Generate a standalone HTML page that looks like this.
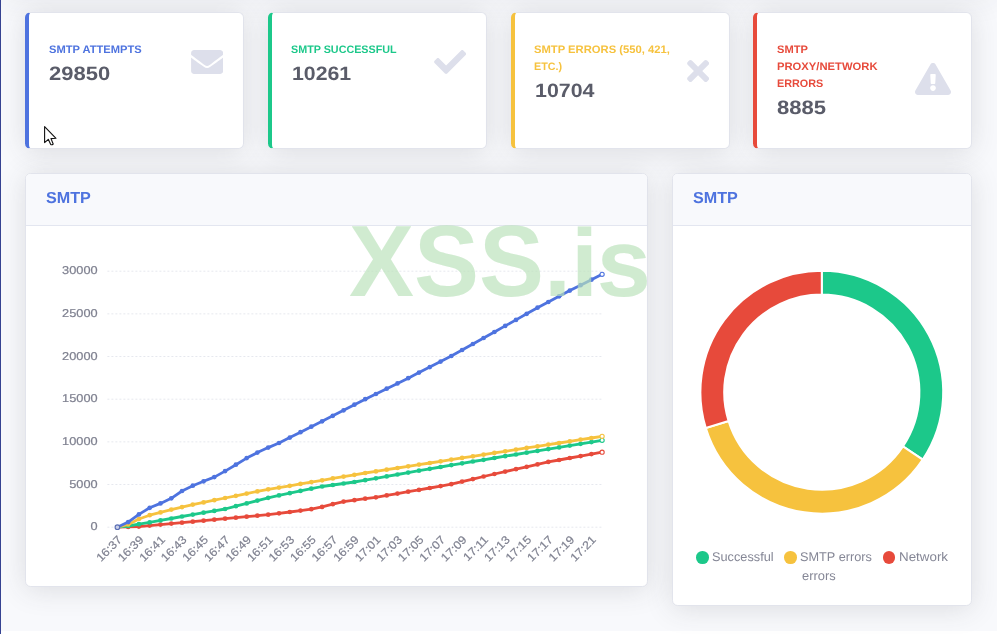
<!DOCTYPE html>
<html lang="en"><head><meta charset="utf-8"><title>SMTP</title>
<style>
*{box-sizing:border-box}
html,body{margin:0;padding:0}
body{width:997px;height:634px;overflow:hidden;position:relative;background:#f8f9fc;font-family:"Liberation Sans",sans-serif;color:#858796;text-rendering:geometricPrecision}
.abs{position:absolute}
.topshade{left:0;top:-60px;width:997px;height:60px;background:#fff;box-shadow:0 2.4px 28px 0 rgba(58,59,69,.06)}
.edge{left:0;top:0;width:1.2px;height:634px;background:#364392}
.footer{left:1px;top:631px;width:996px;height:3px;background:#fff}
.card{position:absolute;background:#fff;border:1px solid #e2e4ec;border-radius:5.6px;box-shadow:0 2.4px 28px 0 rgba(58,59,69,.15)}
.tx{position:absolute;white-space:nowrap;transform-origin:0 50%}
.ttl{font-weight:700;font-size:10.9px;line-height:16.8px}
.num{font-weight:700;font-size:19.4px;line-height:24px;color:#5a5c69}
.ico path{fill:#dddfeb}
.hdr{position:absolute;left:0;top:0;right:0;height:52.2px;background:#f8f9fc;border-bottom:1px solid #e3e6f0;border-radius:4.6px 4.6px 0 0}
.h6{font-weight:700;font-size:15.9px;line-height:19.2px;color:#4e73df}
.tick{text-rendering:geometricPrecision;font-family:"Liberation Sans",sans-serif;font-size:11.4px;fill:#7f8190;stroke:#7f8190;stroke-width:.2px}
.wm{font-weight:700;font-size:101.5px;line-height:1;color:rgba(185,225,185,.67)}
.wi{display:inline-block;letter-spacing:-1.5px;transform:scaleY(.946);transform-origin:0 84.65%}
.leg{font-size:12.6px;line-height:19.2px;color:#858796}
.dot{position:absolute;width:12.6px;height:12.6px;border-radius:50%}
</style></head><body>
<div class="abs topshade"></div>
<div class="abs footer"></div>
<div class="card" style="left:25.20px;top:12.3px;width:219px;height:136.4px;border-left:4px solid #4e73df"></div>
<div class="card" style="left:267.90px;top:12.3px;width:219px;height:136.4px;border-left:4px solid #1cc88a"></div>
<div class="card" style="left:510.60px;top:12.3px;width:219px;height:136.4px;border-left:4px solid #f6c23e"></div>
<div class="card" style="left:753.30px;top:12.3px;width:219px;height:136.4px;border-left:4px solid #e74a3b"></div>
<div id="t1" class="tx ttl" style="left:48.71px;top:42.10px;transform:scale(1.0238,1.0000);color:#4e73df;">SMTP ATTEMPTS</div><div id="n1" class="tx num" style="left:48.63px;top:62.20px;transform:scale(1.1339,1.0000);">29850</div><svg class="abs ico" style="left:190.8px;top:46px" width="32.2" height="32" viewBox="0 0 512 512"><path d="M502.3 190.8c3.9-3.1 9.7-.2 9.7 4.7V400c0 26.5-21.5 48-48 48H48c-26.5 0-48-21.5-48-48V195.6c0-5 5.7-7.800 9.7-4.700 22.400 17.400 52.100 39.500 154.100 113.600 21.100 15.400 56.700 47.800 92.200 47.600 35.700.300 72-32.800 92.300-47.600 102-74.100 131.600-96.300 154-113.700zM256 320c23.200.400 56.600-29.200 73.400-41.400 132.700-96.300 142.800-104.700 173.400-128.700 5.800-4.500 9.200-11.500 9.200-18.900v-19c0-26.500-21.500-48-48-48H48C21.500 64 0 85.500 0 112v19c0 7.400 3.400 14.300 9.200 18.900 30.600 23.900 40.700 32.400 173.400 128.700 16.800 12.200 50.200 41.800 73.400 41.400z"/></svg>
<div id="t2" class="tx ttl" style="left:291.26px;top:42.10px;transform:scale(0.9880,1.0000);color:#1cc88a;">SMTP SUCCESSFUL</div><div id="n2" class="tx num" style="left:292.44px;top:62.20px;transform:scale(1.0974,1.0000);">10261</div><svg class="abs ico" style="left:433.6px;top:46px" width="32.2" height="32" viewBox="0 0 512 512"><path d="M173.898 439.404l-166.400-166.400c-9.997-9.997-9.997-26.206 0-36.204l36.203-36.204c9.997-9.998 26.207-9.998 36.204 0L192 312.690 432.095 72.596c9.997-9.997 26.207-9.997 36.204 0l36.203 36.204c9.997 9.997 9.997 26.206 0 36.204l-294.400 294.401c-9.998 9.997-26.207 9.997-36.204-.001z"/></svg>
<div id="t3a" class="tx ttl" style="left:533.79px;top:42.10px;transform:scale(1.0315,1.0000);color:#f6c23e;">SMTP ERRORS (550, 421,</div><div id="t3b" class="tx ttl" style="left:533.68px;top:59.00px;transform:scale(0.9859,1.0000);color:#f6c23e;">ETC.)</div><div id="n3" class="tx num" style="left:534.54px;top:79.10px;transform:scale(1.1034,1.0000);">10704</div><svg class="abs ico" style="left:686.5px;top:55.2px" width="22.2" height="32" viewBox="0 0 352 512"><path d="M242.720 256l100.070-100.070c12.280-12.280 12.280-32.190 0-44.480l-22.240-22.240c-12.280-12.280-32.190-12.280-44.480 0L176 189.280 75.930 89.210c-12.280-12.280-32.190-12.280-44.480 0L9.210 111.450c-12.280 12.280-12.280 32.190 0 44.480L109.280 256 9.210 356.070c-12.280 12.280-12.280 32.190 0 44.480l22.240 22.240c12.280 12.280 32.200 12.280 44.480 0L176 322.720l100.070 100.070c12.280 12.280 32.200 12.280 44.480 0l22.240-22.240c12.280-12.280 12.280-32.190 0-44.480L242.720 256z"/></svg>
<div id="t4a" class="tx ttl" style="left:776.69px;top:42.10px;transform:scale(1.0192,1.0000);color:#e74a3b;">SMTP</div><div id="t4b" class="tx ttl" style="left:776.64px;top:59.00px;transform:scale(1.0318,1.0000);color:#e74a3b;">PROXY/NETWORK</div><div id="t4c" class="tx ttl" style="left:776.70px;top:75.90px;transform:scale(0.9938,1.0000);color:#e74a3b;">ERRORS</div><div id="n4" class="tx num" style="left:777.24px;top:95.50px;transform:scale(1.1364,1.0000);">8885</div><svg class="abs ico" style="left:914.9px;top:63px" width="36" height="32" viewBox="0 0 576 512"><path d="M569.517 440.013C587.975 472.007 564.806 512 527.940 512H48.054c-36.937 0-59.999-40.055-41.577-71.987L246.423 23.985c18.467-32.009 64.720-31.951 83.154 0l239.940 416.028zM288 354c-25.405 0-46 20.595-46 46s20.595 46 46 46 46-20.595 46-46-20.595-46-46-46zm-43.673-165.346l7.418 136c.347 6.364 5.609 11.346 11.982 11.346h48.546c6.373 0 11.635-4.982 11.982-11.346l7.418-136c.375-6.874-5.098-12.654-11.982-12.654h-63.383c-6.884 0-12.356 5.780-11.981 12.654z"/></svg>

<div class="card" style="left:25.2px;top:172.7px;width:622.8px;height:414.2px"><div class="hdr"></div></div>
<div id="h6a" class="tx h6" style="left:45.51px;top:189.40px;transform:scale(1.0167,1.0000);">SMTP</div>
<div class="card" style="left:672.2px;top:172.7px;width:299.8px;height:433.6px"><div class="hdr"></div></div>
<div id="h6b" class="tx h6" style="left:692.51px;top:189.40px;transform:scale(1.0167,1.0000);">SMTP</div>
<svg class="abs" style="left:0;top:0" width="997" height="634" viewBox="0 0 997 634">
<line x1="107.4" x2="602.2" y1="527.20" y2="527.20" stroke="#e6e8ee" stroke-width="1" stroke-dasharray="2 2"/>
<line x1="107.4" x2="602.2" y1="484.53" y2="484.53" stroke="#e6e8ee" stroke-width="1" stroke-dasharray="2 2"/>
<line x1="107.4" x2="602.2" y1="441.87" y2="441.87" stroke="#e6e8ee" stroke-width="1" stroke-dasharray="2 2"/>
<line x1="107.4" x2="602.2" y1="399.20" y2="399.20" stroke="#e6e8ee" stroke-width="1" stroke-dasharray="2 2"/>
<line x1="107.4" x2="602.2" y1="356.53" y2="356.53" stroke="#e6e8ee" stroke-width="1" stroke-dasharray="2 2"/>
<line x1="107.4" x2="602.2" y1="313.87" y2="313.87" stroke="#e6e8ee" stroke-width="1" stroke-dasharray="2 2"/>
<line x1="107.4" x2="602.2" y1="271.20" y2="271.20" stroke="#e6e8ee" stroke-width="1" stroke-dasharray="2 2"/>
<text class="tick" text-anchor="end" transform="translate(97.60,530.20) scale(1.12,1)">0</text>
<text class="tick" text-anchor="end" transform="translate(97.60,487.53) scale(1.12,1)">5000</text>
<text class="tick" text-anchor="end" transform="translate(97.60,444.87) scale(1.12,1)">10000</text>
<text class="tick" text-anchor="end" transform="translate(97.60,402.20) scale(1.12,1)">15000</text>
<text class="tick" text-anchor="end" transform="translate(97.60,359.53) scale(1.12,1)">20000</text>
<text class="tick" text-anchor="end" transform="translate(97.60,316.87) scale(1.12,1)">25000</text>
<text class="tick" text-anchor="end" transform="translate(97.60,274.20) scale(1.12,1)">30000</text>
<text class="tick" text-anchor="end" transform="translate(122.70,540.50) rotate(-45) scale(1.08,1)">16:37</text>
<text class="tick" text-anchor="end" transform="translate(144.24,540.50) rotate(-45) scale(1.08,1)">16:39</text>
<text class="tick" text-anchor="end" transform="translate(165.79,540.50) rotate(-45) scale(1.08,1)">16:41</text>
<text class="tick" text-anchor="end" transform="translate(187.33,540.50) rotate(-45) scale(1.08,1)">16:43</text>
<text class="tick" text-anchor="end" transform="translate(208.88,540.50) rotate(-45) scale(1.08,1)">16:45</text>
<text class="tick" text-anchor="end" transform="translate(230.42,540.50) rotate(-45) scale(1.08,1)">16:47</text>
<text class="tick" text-anchor="end" transform="translate(251.96,540.50) rotate(-45) scale(1.08,1)">16:49</text>
<text class="tick" text-anchor="end" transform="translate(273.51,540.50) rotate(-45) scale(1.08,1)">16:51</text>
<text class="tick" text-anchor="end" transform="translate(295.05,540.50) rotate(-45) scale(1.08,1)">16:53</text>
<text class="tick" text-anchor="end" transform="translate(316.60,540.50) rotate(-45) scale(1.08,1)">16:55</text>
<text class="tick" text-anchor="end" transform="translate(338.14,540.50) rotate(-45) scale(1.08,1)">16:57</text>
<text class="tick" text-anchor="end" transform="translate(359.68,540.50) rotate(-45) scale(1.08,1)">16:59</text>
<text class="tick" text-anchor="end" transform="translate(381.23,540.50) rotate(-45) scale(1.08,1)">17:01</text>
<text class="tick" text-anchor="end" transform="translate(402.77,540.50) rotate(-45) scale(1.08,1)">17:03</text>
<text class="tick" text-anchor="end" transform="translate(424.32,540.50) rotate(-45) scale(1.08,1)">17:05</text>
<text class="tick" text-anchor="end" transform="translate(445.86,540.50) rotate(-45) scale(1.08,1)">17:07</text>
<text class="tick" text-anchor="end" transform="translate(467.40,540.50) rotate(-45) scale(1.08,1)">17:09</text>
<text class="tick" text-anchor="end" transform="translate(488.95,540.50) rotate(-45) scale(1.08,1)">17:11</text>
<text class="tick" text-anchor="end" transform="translate(510.49,540.50) rotate(-45) scale(1.08,1)">17:13</text>
<text class="tick" text-anchor="end" transform="translate(532.04,540.50) rotate(-45) scale(1.08,1)">17:15</text>
<text class="tick" text-anchor="end" transform="translate(553.58,540.50) rotate(-45) scale(1.08,1)">17:17</text>
<text class="tick" text-anchor="end" transform="translate(575.12,540.50) rotate(-45) scale(1.08,1)">17:19</text>
<text class="tick" text-anchor="end" transform="translate(596.67,540.50) rotate(-45) scale(1.08,1)">17:21</text>
<polyline points="117.4,527.2 128.2,526.9 138.9,526.6 149.7,525.6 160.5,524.6 171.3,523.6 182.0,522.7 192.8,521.7 203.6,520.7 214.3,519.7 225.1,518.7 235.9,517.7 246.7,516.7 257.4,515.7 268.2,514.7 279.0,513.3 289.8,512.0 300.5,510.6 311.3,509.2 322.1,506.9 332.8,504.2 343.6,501.6 354.4,500.2 365.2,498.7 375.9,497.3 386.7,495.4 397.5,493.6 408.2,491.7 419.0,489.9 429.8,488.0 440.6,486.1 451.3,484.2 462.1,481.6 472.9,479.1 483.6,476.5 494.4,474.0 505.2,471.6 516.0,469.2 526.7,466.8 537.5,464.4 548.3,461.9 559.1,460.0 569.8,458.0 580.6,456.1 591.4,454.1 602.1,452.2" fill="none" stroke="#e74a3b" stroke-width="2.8" stroke-linejoin="round" stroke-linecap="round"/>
<circle cx="128.2" cy="526.9" r="2.35" fill="#e74a3b"/>
<circle cx="138.9" cy="526.6" r="2.35" fill="#e74a3b"/>
<circle cx="149.7" cy="525.6" r="2.35" fill="#e74a3b"/>
<circle cx="160.5" cy="524.6" r="2.35" fill="#e74a3b"/>
<circle cx="171.3" cy="523.6" r="2.35" fill="#e74a3b"/>
<circle cx="182.0" cy="522.7" r="2.35" fill="#e74a3b"/>
<circle cx="192.8" cy="521.7" r="2.35" fill="#e74a3b"/>
<circle cx="203.6" cy="520.7" r="2.35" fill="#e74a3b"/>
<circle cx="214.3" cy="519.7" r="2.35" fill="#e74a3b"/>
<circle cx="225.1" cy="518.7" r="2.35" fill="#e74a3b"/>
<circle cx="235.9" cy="517.7" r="2.35" fill="#e74a3b"/>
<circle cx="246.7" cy="516.7" r="2.35" fill="#e74a3b"/>
<circle cx="257.4" cy="515.7" r="2.35" fill="#e74a3b"/>
<circle cx="268.2" cy="514.7" r="2.35" fill="#e74a3b"/>
<circle cx="279.0" cy="513.3" r="2.35" fill="#e74a3b"/>
<circle cx="289.8" cy="512.0" r="2.35" fill="#e74a3b"/>
<circle cx="300.5" cy="510.6" r="2.35" fill="#e74a3b"/>
<circle cx="311.3" cy="509.2" r="2.35" fill="#e74a3b"/>
<circle cx="322.1" cy="506.9" r="2.35" fill="#e74a3b"/>
<circle cx="332.8" cy="504.2" r="2.35" fill="#e74a3b"/>
<circle cx="343.6" cy="501.6" r="2.35" fill="#e74a3b"/>
<circle cx="354.4" cy="500.2" r="2.35" fill="#e74a3b"/>
<circle cx="365.2" cy="498.7" r="2.35" fill="#e74a3b"/>
<circle cx="375.9" cy="497.3" r="2.35" fill="#e74a3b"/>
<circle cx="386.7" cy="495.4" r="2.35" fill="#e74a3b"/>
<circle cx="397.5" cy="493.6" r="2.35" fill="#e74a3b"/>
<circle cx="408.2" cy="491.7" r="2.35" fill="#e74a3b"/>
<circle cx="419.0" cy="489.9" r="2.35" fill="#e74a3b"/>
<circle cx="429.8" cy="488.0" r="2.35" fill="#e74a3b"/>
<circle cx="440.6" cy="486.1" r="2.35" fill="#e74a3b"/>
<circle cx="451.3" cy="484.2" r="2.35" fill="#e74a3b"/>
<circle cx="462.1" cy="481.6" r="2.35" fill="#e74a3b"/>
<circle cx="472.9" cy="479.1" r="2.35" fill="#e74a3b"/>
<circle cx="483.6" cy="476.5" r="2.35" fill="#e74a3b"/>
<circle cx="494.4" cy="474.0" r="2.35" fill="#e74a3b"/>
<circle cx="505.2" cy="471.6" r="2.35" fill="#e74a3b"/>
<circle cx="516.0" cy="469.2" r="2.35" fill="#e74a3b"/>
<circle cx="526.7" cy="466.8" r="2.35" fill="#e74a3b"/>
<circle cx="537.5" cy="464.4" r="2.35" fill="#e74a3b"/>
<circle cx="548.3" cy="461.9" r="2.35" fill="#e74a3b"/>
<circle cx="559.1" cy="460.0" r="2.35" fill="#e74a3b"/>
<circle cx="569.8" cy="458.0" r="2.35" fill="#e74a3b"/>
<circle cx="580.6" cy="456.1" r="2.35" fill="#e74a3b"/>
<circle cx="591.4" cy="454.1" r="2.35" fill="#e74a3b"/>
<circle cx="602.1" cy="452.2" r="2.1" fill="#fff" stroke="#e74a3b" stroke-width="1.1"/>
<polyline points="117.4,527.2 128.2,526.0 138.9,524.2 149.7,522.4 160.5,520.4 171.3,518.5 182.0,516.5 192.8,514.6 203.6,512.7 214.3,510.9 225.1,509.0 235.9,506.2 246.7,503.4 257.4,500.6 268.2,497.8 279.0,495.4 289.8,493.2 300.5,490.9 311.3,488.7 322.1,486.5 332.8,485.0 343.6,483.5 354.4,482.0 365.2,480.2 375.9,478.3 386.7,476.4 397.5,474.5 408.2,472.6 419.0,470.7 429.8,468.8 440.6,467.0 451.3,465.1 462.1,463.3 472.9,461.5 483.6,459.8 494.4,458.0 505.2,456.2 516.0,454.5 526.7,452.7 537.5,450.9 548.3,449.1 559.1,447.4 569.8,445.6 580.6,443.8 591.4,442.1 602.1,440.3" fill="none" stroke="#1cc88a" stroke-width="2.8" stroke-linejoin="round" stroke-linecap="round"/>
<circle cx="128.2" cy="526.0" r="2.35" fill="#1cc88a"/>
<circle cx="138.9" cy="524.2" r="2.35" fill="#1cc88a"/>
<circle cx="149.7" cy="522.4" r="2.35" fill="#1cc88a"/>
<circle cx="160.5" cy="520.4" r="2.35" fill="#1cc88a"/>
<circle cx="171.3" cy="518.5" r="2.35" fill="#1cc88a"/>
<circle cx="182.0" cy="516.5" r="2.35" fill="#1cc88a"/>
<circle cx="192.8" cy="514.6" r="2.35" fill="#1cc88a"/>
<circle cx="203.6" cy="512.7" r="2.35" fill="#1cc88a"/>
<circle cx="214.3" cy="510.9" r="2.35" fill="#1cc88a"/>
<circle cx="225.1" cy="509.0" r="2.35" fill="#1cc88a"/>
<circle cx="235.9" cy="506.2" r="2.35" fill="#1cc88a"/>
<circle cx="246.7" cy="503.4" r="2.35" fill="#1cc88a"/>
<circle cx="257.4" cy="500.6" r="2.35" fill="#1cc88a"/>
<circle cx="268.2" cy="497.8" r="2.35" fill="#1cc88a"/>
<circle cx="279.0" cy="495.4" r="2.35" fill="#1cc88a"/>
<circle cx="289.8" cy="493.2" r="2.35" fill="#1cc88a"/>
<circle cx="300.5" cy="490.9" r="2.35" fill="#1cc88a"/>
<circle cx="311.3" cy="488.7" r="2.35" fill="#1cc88a"/>
<circle cx="322.1" cy="486.5" r="2.35" fill="#1cc88a"/>
<circle cx="332.8" cy="485.0" r="2.35" fill="#1cc88a"/>
<circle cx="343.6" cy="483.5" r="2.35" fill="#1cc88a"/>
<circle cx="354.4" cy="482.0" r="2.35" fill="#1cc88a"/>
<circle cx="365.2" cy="480.2" r="2.35" fill="#1cc88a"/>
<circle cx="375.9" cy="478.3" r="2.35" fill="#1cc88a"/>
<circle cx="386.7" cy="476.4" r="2.35" fill="#1cc88a"/>
<circle cx="397.5" cy="474.5" r="2.35" fill="#1cc88a"/>
<circle cx="408.2" cy="472.6" r="2.35" fill="#1cc88a"/>
<circle cx="419.0" cy="470.7" r="2.35" fill="#1cc88a"/>
<circle cx="429.8" cy="468.8" r="2.35" fill="#1cc88a"/>
<circle cx="440.6" cy="467.0" r="2.35" fill="#1cc88a"/>
<circle cx="451.3" cy="465.1" r="2.35" fill="#1cc88a"/>
<circle cx="462.1" cy="463.3" r="2.35" fill="#1cc88a"/>
<circle cx="472.9" cy="461.5" r="2.35" fill="#1cc88a"/>
<circle cx="483.6" cy="459.8" r="2.35" fill="#1cc88a"/>
<circle cx="494.4" cy="458.0" r="2.35" fill="#1cc88a"/>
<circle cx="505.2" cy="456.2" r="2.35" fill="#1cc88a"/>
<circle cx="516.0" cy="454.5" r="2.35" fill="#1cc88a"/>
<circle cx="526.7" cy="452.7" r="2.35" fill="#1cc88a"/>
<circle cx="537.5" cy="450.9" r="2.35" fill="#1cc88a"/>
<circle cx="548.3" cy="449.1" r="2.35" fill="#1cc88a"/>
<circle cx="559.1" cy="447.4" r="2.35" fill="#1cc88a"/>
<circle cx="569.8" cy="445.6" r="2.35" fill="#1cc88a"/>
<circle cx="580.6" cy="443.8" r="2.35" fill="#1cc88a"/>
<circle cx="591.4" cy="442.1" r="2.35" fill="#1cc88a"/>
<circle cx="602.1" cy="440.3" r="2.1" fill="#fff" stroke="#1cc88a" stroke-width="1.1"/>
<polyline points="117.4,527.2 128.2,524.5 138.9,519.0 149.7,515.2 160.5,512.4 171.3,509.6 182.0,507.1 192.8,504.6 203.6,502.4 214.3,500.2 225.1,498.0 235.9,495.8 246.7,493.6 257.4,491.4 268.2,489.3 279.0,487.6 289.8,485.8 300.5,483.9 311.3,482.1 322.1,480.3 332.8,478.4 343.6,476.6 354.4,474.8 365.2,473.0 375.9,471.4 386.7,469.7 397.5,468.0 408.2,466.3 419.0,464.6 429.8,463.0 440.6,461.3 451.3,459.6 462.1,457.9 472.9,456.3 483.6,454.6 494.4,452.9 505.2,451.3 516.0,449.6 526.7,447.9 537.5,446.3 548.3,444.6 559.1,443.0 569.8,441.3 580.6,439.6 591.4,438.0 602.1,436.3" fill="none" stroke="#f6c23e" stroke-width="2.8" stroke-linejoin="round" stroke-linecap="round"/>
<circle cx="128.2" cy="524.5" r="2.35" fill="#f6c23e"/>
<circle cx="138.9" cy="519.0" r="2.35" fill="#f6c23e"/>
<circle cx="149.7" cy="515.2" r="2.35" fill="#f6c23e"/>
<circle cx="160.5" cy="512.4" r="2.35" fill="#f6c23e"/>
<circle cx="171.3" cy="509.6" r="2.35" fill="#f6c23e"/>
<circle cx="182.0" cy="507.1" r="2.35" fill="#f6c23e"/>
<circle cx="192.8" cy="504.6" r="2.35" fill="#f6c23e"/>
<circle cx="203.6" cy="502.4" r="2.35" fill="#f6c23e"/>
<circle cx="214.3" cy="500.2" r="2.35" fill="#f6c23e"/>
<circle cx="225.1" cy="498.0" r="2.35" fill="#f6c23e"/>
<circle cx="235.9" cy="495.8" r="2.35" fill="#f6c23e"/>
<circle cx="246.7" cy="493.6" r="2.35" fill="#f6c23e"/>
<circle cx="257.4" cy="491.4" r="2.35" fill="#f6c23e"/>
<circle cx="268.2" cy="489.3" r="2.35" fill="#f6c23e"/>
<circle cx="279.0" cy="487.6" r="2.35" fill="#f6c23e"/>
<circle cx="289.8" cy="485.8" r="2.35" fill="#f6c23e"/>
<circle cx="300.5" cy="483.9" r="2.35" fill="#f6c23e"/>
<circle cx="311.3" cy="482.1" r="2.35" fill="#f6c23e"/>
<circle cx="322.1" cy="480.3" r="2.35" fill="#f6c23e"/>
<circle cx="332.8" cy="478.4" r="2.35" fill="#f6c23e"/>
<circle cx="343.6" cy="476.6" r="2.35" fill="#f6c23e"/>
<circle cx="354.4" cy="474.8" r="2.35" fill="#f6c23e"/>
<circle cx="365.2" cy="473.0" r="2.35" fill="#f6c23e"/>
<circle cx="375.9" cy="471.4" r="2.35" fill="#f6c23e"/>
<circle cx="386.7" cy="469.7" r="2.35" fill="#f6c23e"/>
<circle cx="397.5" cy="468.0" r="2.35" fill="#f6c23e"/>
<circle cx="408.2" cy="466.3" r="2.35" fill="#f6c23e"/>
<circle cx="419.0" cy="464.6" r="2.35" fill="#f6c23e"/>
<circle cx="429.8" cy="463.0" r="2.35" fill="#f6c23e"/>
<circle cx="440.6" cy="461.3" r="2.35" fill="#f6c23e"/>
<circle cx="451.3" cy="459.6" r="2.35" fill="#f6c23e"/>
<circle cx="462.1" cy="457.9" r="2.35" fill="#f6c23e"/>
<circle cx="472.9" cy="456.3" r="2.35" fill="#f6c23e"/>
<circle cx="483.6" cy="454.6" r="2.35" fill="#f6c23e"/>
<circle cx="494.4" cy="452.9" r="2.35" fill="#f6c23e"/>
<circle cx="505.2" cy="451.3" r="2.35" fill="#f6c23e"/>
<circle cx="516.0" cy="449.6" r="2.35" fill="#f6c23e"/>
<circle cx="526.7" cy="447.9" r="2.35" fill="#f6c23e"/>
<circle cx="537.5" cy="446.3" r="2.35" fill="#f6c23e"/>
<circle cx="548.3" cy="444.6" r="2.35" fill="#f6c23e"/>
<circle cx="559.1" cy="443.0" r="2.35" fill="#f6c23e"/>
<circle cx="569.8" cy="441.3" r="2.35" fill="#f6c23e"/>
<circle cx="580.6" cy="439.6" r="2.35" fill="#f6c23e"/>
<circle cx="591.4" cy="438.0" r="2.35" fill="#f6c23e"/>
<circle cx="602.1" cy="436.3" r="2.1" fill="#fff" stroke="#f6c23e" stroke-width="1.1"/>
<polyline points="117.4,527.2 128.2,522.1 138.9,514.4 149.7,507.8 160.5,503.4 171.3,498.3 182.0,491.0 192.8,485.7 203.6,481.3 214.3,477.1 225.1,471.1 235.9,464.7 246.7,458.1 257.4,452.6 268.2,447.6 279.0,443.0 289.8,437.6 300.5,432.2 311.3,426.7 322.1,421.3 332.8,415.8 343.6,410.3 354.4,404.7 365.2,399.2 375.9,394.0 386.7,388.7 397.5,383.4 408.2,378.2 419.0,372.6 429.8,367.1 440.6,361.6 451.3,356.0 462.1,350.0 472.9,344.0 483.6,338.0 494.4,332.0 505.2,325.9 516.0,319.9 526.7,313.8 537.5,307.7 548.3,302.0 559.1,296.3 569.8,290.6 580.6,285.2 591.4,279.7 602.1,274.3" fill="none" stroke="#4e73df" stroke-width="2.8" stroke-linejoin="round" stroke-linecap="round"/>
<circle cx="128.2" cy="522.1" r="2.35" fill="#4e73df"/>
<circle cx="138.9" cy="514.4" r="2.35" fill="#4e73df"/>
<circle cx="149.7" cy="507.8" r="2.35" fill="#4e73df"/>
<circle cx="160.5" cy="503.4" r="2.35" fill="#4e73df"/>
<circle cx="171.3" cy="498.3" r="2.35" fill="#4e73df"/>
<circle cx="182.0" cy="491.0" r="2.35" fill="#4e73df"/>
<circle cx="192.8" cy="485.7" r="2.35" fill="#4e73df"/>
<circle cx="203.6" cy="481.3" r="2.35" fill="#4e73df"/>
<circle cx="214.3" cy="477.1" r="2.35" fill="#4e73df"/>
<circle cx="225.1" cy="471.1" r="2.35" fill="#4e73df"/>
<circle cx="235.9" cy="464.7" r="2.35" fill="#4e73df"/>
<circle cx="246.7" cy="458.1" r="2.35" fill="#4e73df"/>
<circle cx="257.4" cy="452.6" r="2.35" fill="#4e73df"/>
<circle cx="268.2" cy="447.6" r="2.35" fill="#4e73df"/>
<circle cx="279.0" cy="443.0" r="2.35" fill="#4e73df"/>
<circle cx="289.8" cy="437.6" r="2.35" fill="#4e73df"/>
<circle cx="300.5" cy="432.2" r="2.35" fill="#4e73df"/>
<circle cx="311.3" cy="426.7" r="2.35" fill="#4e73df"/>
<circle cx="322.1" cy="421.3" r="2.35" fill="#4e73df"/>
<circle cx="332.8" cy="415.8" r="2.35" fill="#4e73df"/>
<circle cx="343.6" cy="410.3" r="2.35" fill="#4e73df"/>
<circle cx="354.4" cy="404.7" r="2.35" fill="#4e73df"/>
<circle cx="365.2" cy="399.2" r="2.35" fill="#4e73df"/>
<circle cx="375.9" cy="394.0" r="2.35" fill="#4e73df"/>
<circle cx="386.7" cy="388.7" r="2.35" fill="#4e73df"/>
<circle cx="397.5" cy="383.4" r="2.35" fill="#4e73df"/>
<circle cx="408.2" cy="378.2" r="2.35" fill="#4e73df"/>
<circle cx="419.0" cy="372.6" r="2.35" fill="#4e73df"/>
<circle cx="429.8" cy="367.1" r="2.35" fill="#4e73df"/>
<circle cx="440.6" cy="361.6" r="2.35" fill="#4e73df"/>
<circle cx="451.3" cy="356.0" r="2.35" fill="#4e73df"/>
<circle cx="462.1" cy="350.0" r="2.35" fill="#4e73df"/>
<circle cx="472.9" cy="344.0" r="2.35" fill="#4e73df"/>
<circle cx="483.6" cy="338.0" r="2.35" fill="#4e73df"/>
<circle cx="494.4" cy="332.0" r="2.35" fill="#4e73df"/>
<circle cx="505.2" cy="325.9" r="2.35" fill="#4e73df"/>
<circle cx="516.0" cy="319.9" r="2.35" fill="#4e73df"/>
<circle cx="526.7" cy="313.8" r="2.35" fill="#4e73df"/>
<circle cx="537.5" cy="307.7" r="2.35" fill="#4e73df"/>
<circle cx="548.3" cy="302.0" r="2.35" fill="#4e73df"/>
<circle cx="559.1" cy="296.3" r="2.35" fill="#4e73df"/>
<circle cx="569.8" cy="290.6" r="2.35" fill="#4e73df"/>
<circle cx="580.6" cy="285.2" r="2.35" fill="#4e73df"/>
<circle cx="591.4" cy="279.7" r="2.35" fill="#4e73df"/>
<circle cx="602.1" cy="274.3" r="2.1" fill="#fff" stroke="#4e73df" stroke-width="1.1"/>
<circle cx="117.4" cy="527.2" r="2.3" fill="#c9cfe6" stroke="#5b6fb5" stroke-width="1.1"/>
</svg>
<svg class="abs" style="left:0;top:0" width="997" height="634" viewBox="0 0 997 634">
<path d="M821.80 270.80 A121.4 121.4 0 0 1 922.74 459.65 L902.95 446.42 A97.6 97.6 0 0 0 821.80 294.60 Z" fill="#1cc88a" stroke="#fff" stroke-width="2" stroke-linejoin="miter"/>
<path d="M922.74 459.65 A121.4 121.4 0 0 1 705.80 428.01 L728.54 420.99 A97.6 97.6 0 0 0 902.95 446.42 Z" fill="#f6c23e" stroke="#fff" stroke-width="2" stroke-linejoin="miter"/>
<path d="M705.80 428.01 A121.4 121.4 0 0 1 821.80 270.80 L821.80 294.60 A97.6 97.6 0 0 0 728.54 420.99 Z" fill="#e74a3b" stroke="#fff" stroke-width="2" stroke-linejoin="miter"/>
</svg>
<div class="dot" style="left:696.2px;top:551.0px;background:#1cc88a"></div>
<div id="l1" class="tx leg" style="left:711.81px;top:547.90px;transform:scale(1.0114,1.0000);">Successful</div>
<div class="dot" style="left:784.1px;top:551.0px;background:#f6c23e"></div>
<div id="l2" class="tx leg" style="left:799.61px;top:547.90px;transform:scale(1.0103,1.0000);">SMTP errors</div>
<div class="dot" style="left:882.9px;top:551.0px;background:#e74a3b"></div>
<div id="l3" class="tx leg" style="left:898.54px;top:547.90px;transform:scale(1.0611,1.0000);">Network</div>
<div id="l4" class="tx leg" style="left:801.53px;top:567.10px;transform:scale(1.0250,1.0000);">errors</div>
<div id="wm" class="tx wm" style="left:349.40px;top:210.80px;transform:scale(0.9600,1.0000);">XSS.<span class="wi">is</span></div>
<svg class="abs" style="left:0;top:0" width="80" height="160" viewBox="0 0 80 160"><path d="M44.6 126.6 L44.6 142.6 L48.3 139.3 L50.6 144.3 Q51.8 145.3 53.2 144 L51 138.6 L56 138.3 Z" fill="#fff" stroke="#111" stroke-width="1.1" stroke-linejoin="round"/></svg>
<div class="abs edge"></div>
</body></html>
